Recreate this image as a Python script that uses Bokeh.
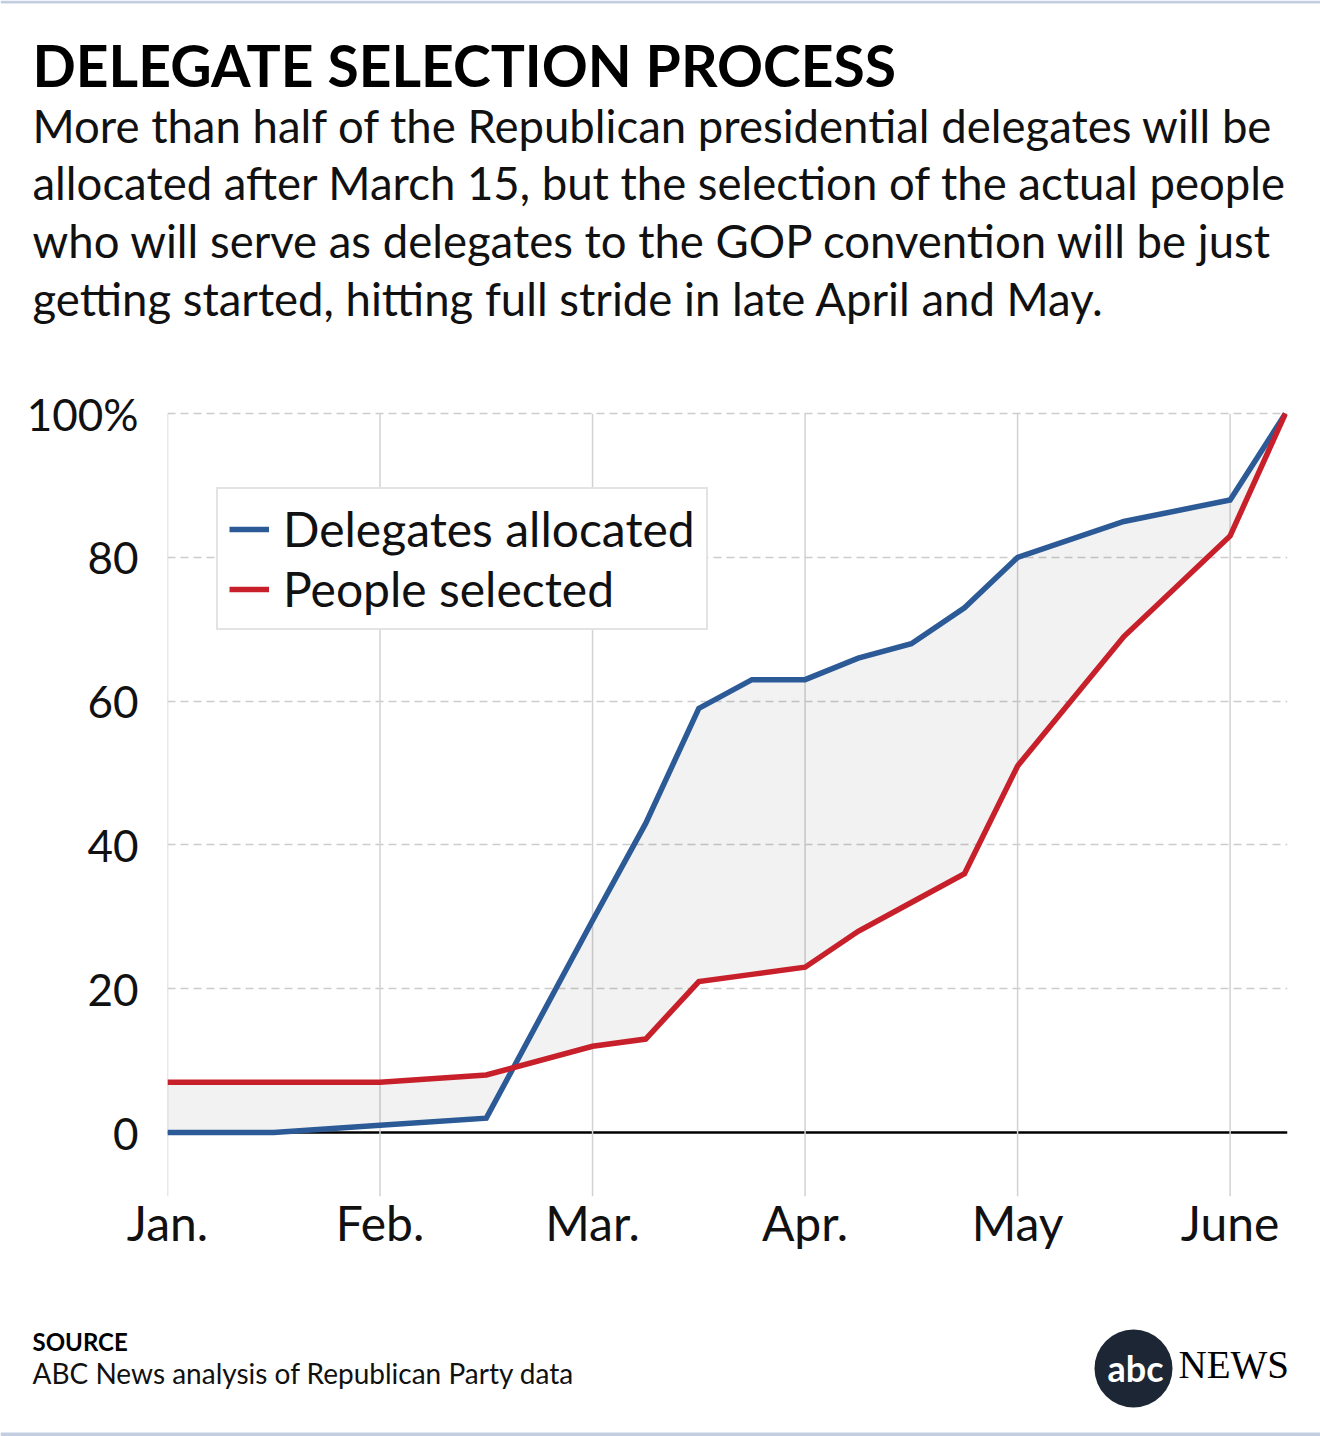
from bokeh.plotting import figure
from bokeh.models import Range1d, FixedTicker, Legend, LegendItem, Span, Label
from bokeh.layouts import column
from bokeh.embed import file_html
from bokeh.resources import INLINE

# ---------------- data ----------------
title_text = "DELEGATE SELECTION PROCESS"
subtitle_lines = [
    "More than half of the Republican presidential delegates will be",
    "allocated after March 15, but the selection of the actual people",
    "who will serve as delegates to the GOP convention will be just",
    "getting started, hitting full stride in late April and May.",
]
source_head = "SOURCE"
source_text = "ABC News analysis of Republican Party data"

month_labels = ["Jan.", "Feb.", "Mar.", "Apr.", "May", "June"]
month_pos = [0, 1, 2, 3, 4, 5]
y_ticks = [0, 20, 40, 60, 80, 100]
y_tick_labels = ["0", "20", "40", "60", "80", "100%"]

# time in months since Jan. 1
x_pos = [0, 0.5, 1, 1.5, 2, 2.25, 2.5, 2.75, 3, 3.25, 3.5, 3.75, 4, 4.5, 5, 5.26]
delegates_allocated = [0, 0, 1, 2, 29.5, 43, 59, 63, 63, 66, 68, 73, 80, 85, 88, 100]
people_selected = [7, 7, 7, 8, 12, 13, 21, 22, 23, 28, 32, 36, 51, 69, 83, 100]

# ---------------- style ----------------
W = 1320
FONT = "Lato"
BLUE = "#2c5a97"
RED = "#c8202a"
TXT = "#111111"
BORDER = "#c3cfe1"


def blank(h):
    p = figure(width=W, height=h, x_range=Range1d(0, W), y_range=Range1d(h, 0),
               output_backend="svg", toolbar_location=None, min_border=0,
               x_axis_location=None, y_axis_location=None, frame_align=False)
    p.grid.visible = False
    p.outline_line_color = None
    return p


def text(fig, x, y, s, size, bold=False, color=TXT, font=FONT, align="left"):
    fig.add_layout(Label(x=x, y=y, text=s, text_font=font,
                         text_font_style="bold" if bold else "normal",
                         text_font_size=size, text_color=color,
                         text_align=align, text_baseline="middle"))


# ---------------- header ----------------
head = blank(370)
head.segment(x0=[0], y0=[1.5], x1=[W], y1=[1.5], line_color=BORDER, line_width=3)
text(head, 32, 64, title_text, "57px", bold=True, color="#000000")
for i, line in enumerate(subtitle_lines):
    text(head, 32, 124.5 + i * 57.7, line, "45.5px")

# ---------------- chart ----------------
y0, y1 = -8.9, 101
p = figure(width=W, height=920, x_range=Range1d(0, 5.27), y_range=Range1d(y0, y1),
           output_backend="svg", toolbar_location=None, frame_align=False,
           min_border_left=167, min_border_right=33, min_border_top=36, min_border_bottom=94)
p.outline_line_color = None
p.xgrid.visible = False
p.ygrid.ticker = FixedTicker(ticks=[t for t in y_ticks if t != 0])
p.ygrid.grid_line_color = "#cccccc"
p.ygrid.grid_line_width = 1.5
p.ygrid.grid_line_dash = "8 5"

p.segment(x0=month_pos, y0=[y0] * len(month_pos), x1=month_pos, y1=[100] * len(month_pos),
          line_color="#d2d2d2", line_width=1.5)
p.add_layout(Span(location=0, dimension="width", line_color="#000000", line_width=2.5, level="underlay"))

p.varea(x=x_pos, y1=delegates_allocated, y2=people_selected, fill_color="#000000", fill_alpha=0.05)
r_blue = p.line(x_pos, delegates_allocated, line_color=BLUE, line_width=5.5, line_join="miter")
r_red = p.line(x_pos, people_selected, line_color=RED, line_width=5.5, line_join="miter")

for ax in (p.xaxis[0], p.yaxis[0]):
    ax.axis_line_color = None
    ax.major_tick_line_color = None
    ax.minor_tick_line_color = None
    ax.major_label_text_font = FONT
    ax.major_label_text_color = TXT

p.yaxis.ticker = FixedTicker(ticks=y_ticks)
p.yaxis.major_label_overrides = {t: l for t, l in zip(y_ticks, y_tick_labels)}
p.yaxis.major_label_text_font_size = "44px"
p.yaxis.major_label_standoff = 23
p.xaxis.ticker = FixedTicker(ticks=month_pos)
p.xaxis.major_label_overrides = {t: l for t, l in zip(month_pos, month_labels)}
p.xaxis.major_label_text_font_size = "48px"
p.xaxis.major_label_standoff = -9

legend = Legend(items=[LegendItem(label="Delegates allocated", renderers=[r_blue]),
                       LegendItem(label="People selected", renderers=[r_red])],
                location=(49, 566))
legend.label_text_font = FONT
legend.label_text_font_size = "48px"
legend.label_text_color = TXT
legend.glyph_width = 40
legend.glyph_height = 40
legend.label_height = 40
legend.label_standoff = 14
legend.padding = 11
legend.spacing = 3
legend.margin = 0
legend.border_line_color = "#c8c8c8"
legend.border_line_width = 2
legend.background_fill_alpha = 1
p.add_layout(legend)

# ---------------- footer ----------------
foot = blank(146)
text(foot, 32, 51, source_head, "24px", bold=True, color="#000000")
text(foot, 32, 82, source_text, "28px")
foot.scatter(x=[1133], y=[78], size=78, marker="circle", fill_color="#1d2635", line_color=None)
text(foot, 1135, 77, "abc", "36px", bold=True, color="#ffffff", align="center")
text(foot, 1178, 74, "NEWS", "39px", color="#000000", font="Liberation Serif")
foot.segment(x0=[0], y0=[144], x1=[W], y1=[144], line_color=BORDER, line_width=4)

layout = column(head, p, foot, spacing=0)
open("out.html", "w").write(file_html(layout, INLINE))
